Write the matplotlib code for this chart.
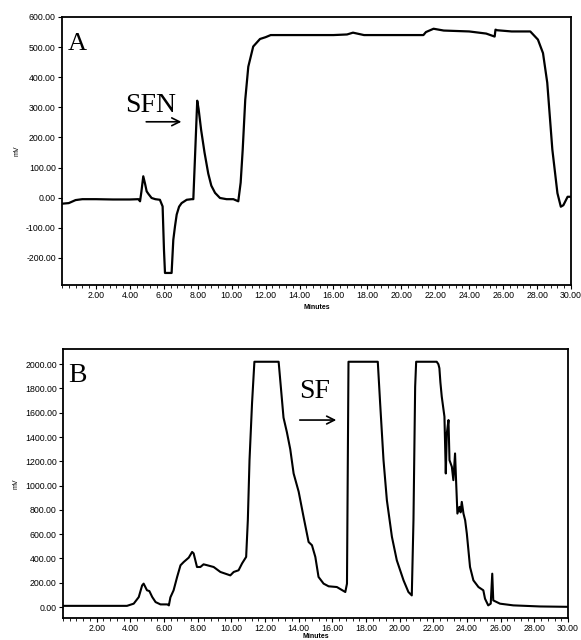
import matplotlib
matplotlib.use("Agg")
import matplotlib.pyplot as plt
from matplotlib.ticker import MultipleLocator, FormatStrFormatter

# ---- Panel A data (Minutes, mV) ----
tA = [0.0, 0.4, 0.8, 1.2, 2.0, 3.0, 4.0, 4.5, 4.6, 4.68, 4.79, 4.9, 4.99, 5.1, 5.28,
      5.5, 5.77, 5.93, 6.01, 6.07, 6.46, 6.56, 6.66, 6.76, 6.9, 7.05, 7.35, 7.64, 7.74,
      7.85, 7.97, 8.05, 8.2, 8.4, 8.62, 8.8, 9.02, 9.31, 9.7, 10.1, 10.39, 10.53, 10.65, 10.8,
      10.98, 11.27, 11.67, 12.0, 12.3, 14.0, 16.0, 16.8, 17.15, 17.8, 18.7, 20.0, 21.3,
      21.45, 21.9, 22.5, 24.0, 25.0, 25.5, 25.55, 25.65, 26.5, 27.6, 28.05, 28.35, 28.6,
      28.9, 29.2, 29.4, 29.55, 29.8, 30.0]
vA = [-20, -18, -8, -5, -5, -6, -6, -5, -12, 20, 71, 45, 21, 12, -1,
      -5, -7, -29, -173, -250, -250, -140, -95, -56, -30, -18, -7, -5, -5,
      150, 322, 295, 225, 150, 80, 40, 16, -1, -5, -5, -12, 50, 159, 325,
      435, 502, 527, 533, 540, 540, 540, 542, 548, 540, 540, 540, 540,
      550, 561, 555, 552, 545, 535, 558, 556, 552, 552, 525, 480, 382,
      160, 15, -30, -25, 3, 3]

# ---- Panel B data (Minutes, mV) ----
tB = [0, 2, 3.8, 4.2, 4.5, 4.7, 4.79, 4.99, 5.13, 5.3, 5.5, 5.79, 6.2, 6.29, 6.38,
      6.57, 6.78, 6.98, 7.17, 7.47, 7.67, 7.76, 7.96, 8.16, 8.35, 8.55, 8.95, 9.35, 9.94,
      10.14, 10.43, 10.64, 10.88, 10.98, 11.08, 11.23, 11.37, 12.81, 13.1, 13.3, 13.5,
      13.7, 14.0, 14.29, 14.59, 14.79, 14.99, 15.18, 15.48, 15.78, 16.27, 16.77, 16.87,
      16.96, 18.7, 18.84, 19.04, 19.24, 19.54, 19.83, 20.23, 20.52, 20.72, 20.82, 20.92,
      20.98, 22.2, 22.3, 22.36, 22.42, 22.5, 22.66, 22.74, 22.8, 22.9, 22.96, 23.1, 23.19,
      23.29, 23.35, 23.43, 23.55, 23.62, 23.69, 23.79, 23.89, 23.99, 24.18, 24.38, 24.68,
      24.97, 25.07, 25.26, 25.41, 25.5, 25.56, 25.96, 26.75, 28.34, 30]
vB = [10, 10, 10, 28, 82, 178, 193, 138, 132, 83, 41, 22, 22, 14, 80,
      138, 248, 344, 371, 407, 454, 442, 330, 330, 352, 345, 330, 289, 261,
      289, 303, 360, 413, 715, 1210, 1678, 2020, 2020, 1560, 1440, 1300,
      1100, 950, 743, 536, 509, 413, 248, 193, 171, 165, 124, 193,
      2020, 2020, 1678, 1210, 880, 578, 385, 220, 124, 96, 715, 1815,
      2020, 2020, 2000, 1967, 1850, 1733, 1568, 1100, 1430, 1540, 1210, 1155, 1045,
      1265, 1045, 770, 825, 780, 866, 770, 715, 605, 330, 220, 165,
      138, 69, 14, 28, 275, 55, 28, 14, 5, 2]

panel_labels = ["A", "B"]
peak_labels = ["SFN", "SF"]
x_label = "Minutes"
y_label = "mV"

fig = plt.figure(figsize=(5.81, 6.40), dpi=100)
W, H = 581, 640
axA = fig.add_axes([62 / W, 1 - 285 / H, 509 / W, 268 / H])
axB = fig.add_axes([63 / W, 1 - 618 / H, 505 / W, 269 / H])

serif = "Liberation Serif"

def style(ax, ylim, ymaj, xlabelpad):
    ax.set_xlim(0, 30)
    ax.set_ylim(*ylim)
    ax.xaxis.set_major_locator(MultipleLocator(2))
    ax.xaxis.set_minor_locator(MultipleLocator(0.4))
    ax.yaxis.set_major_locator(MultipleLocator(ymaj))
    ax.xaxis.set_major_formatter(FormatStrFormatter("%.2f"))
    ax.yaxis.set_major_formatter(FormatStrFormatter("%.2f"))
    ax.tick_params(axis="both", which="major", direction="out", length=3, width=0.8,
                   pad=1.5, labelsize=6.3, colors="black")
    ax.tick_params(axis="x", which="minor", direction="out", length=1.8, width=0.6)
    ax.set_xticks([t for t in range(2, 31, 2)])
    for lab in ax.get_xticklabels() + ax.get_yticklabels():
        lab.set_family("Liberation Sans")
    for s in ax.spines.values():
        s.set_linewidth(1.3)
    ax.set_xlabel(x_label, fontsize=5, family="Liberation Sans", fontweight="bold",
                  labelpad=xlabelpad)
    ax.set_ylabel(y_label, fontsize=5, family="Liberation Sans", labelpad=4)

axA.plot(tA, vA, color="black", lw=1.6, solid_joinstyle="round")
style(axA, (-290, 600), 100, 2.5)
axA.set_yticks(range(-200, 601, 100))
axA.text(0.35, 490, panel_labels[0], family=serif, fontsize=19, ha="left", va="baseline")
axA.text(3.7, 285, peak_labels[0], family=serif, fontsize=20, ha="left", va="baseline")
axA.annotate("", xy=(7.2, 252), xytext=(4.8, 252),
             arrowprops=dict(arrowstyle="->", lw=1.2, color="black", mutation_scale=14))

axB.plot(tB, vB, color="black", lw=1.5, solid_joinstyle="round")
style(axB, (-90, 2125), 200, -0.5)
axB.set_yticks(range(0, 2001, 200))
axB.text(0.3, 1850, panel_labels[1], family=serif, fontsize=20, ha="left", va="baseline")
axB.text(14.0, 1720, peak_labels[1], family=serif, fontsize=20, ha="left", va="baseline")
axB.annotate("", xy=(16.4, 1540), xytext=(13.9, 1540),
             arrowprops=dict(arrowstyle="->", lw=1.2, color="black", mutation_scale=14))

fig.savefig("out.png", dpi=100, facecolor="white")
